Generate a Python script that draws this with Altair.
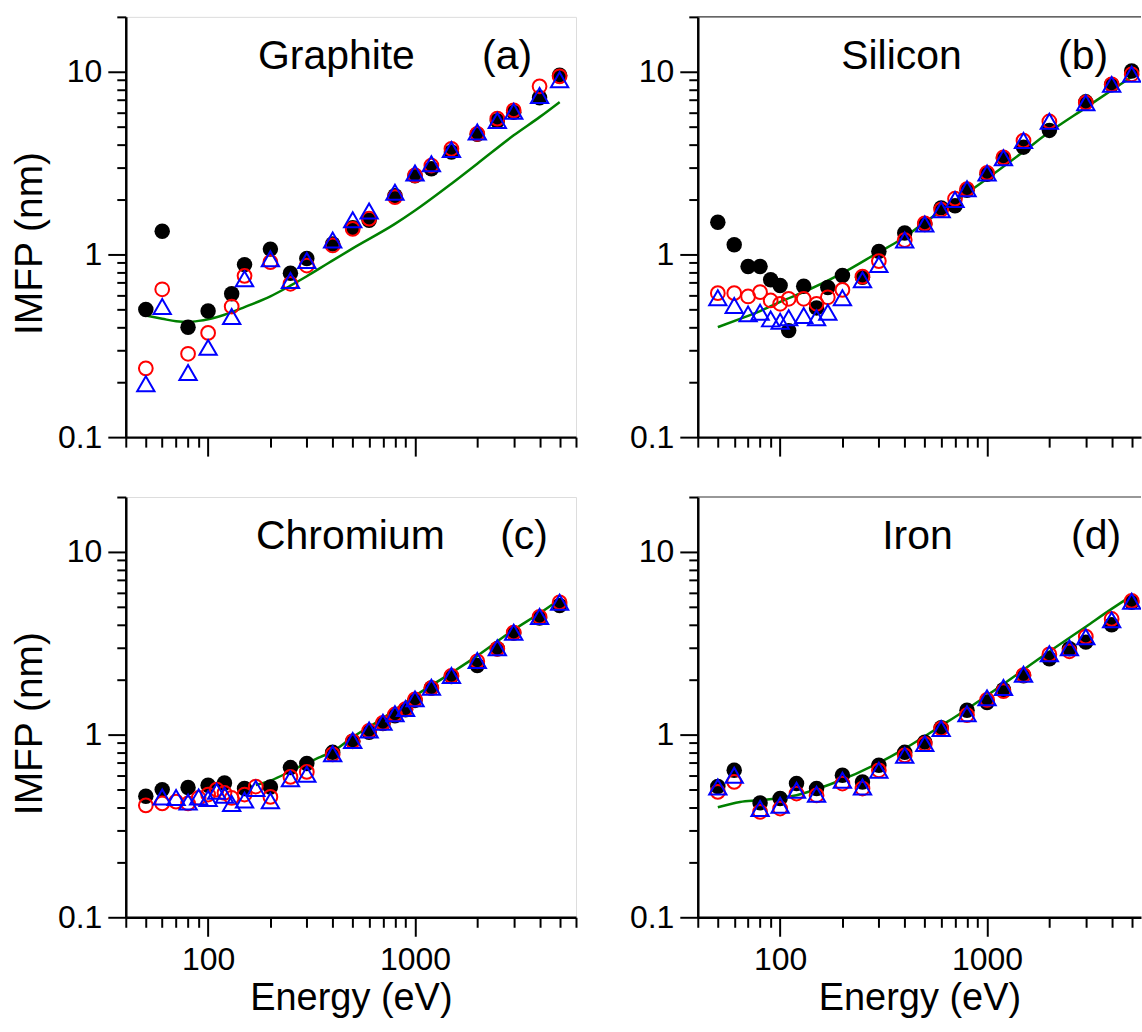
import altair as alt
import pandas as pd

FONT = "Liberation Sans"

# ---------------- Graphite (a) ----------------
E_gr = [50, 60, 80, 100, 130, 150, 200, 250, 300, 400, 500, 600, 800, 1000,
        1200, 1500, 2000, 2500, 3000, 4000, 5000]
gr_black = [0.50, 1.34, 0.40, 0.49, 0.61, 0.88, 1.07, 0.79, 0.95, 1.14, 1.40, 1.54,
            2.10, 2.70, 2.95, 3.64, 4.55, 5.40, 6.00, 7.22, 9.57]
gr_red = [0.238, 0.645, 0.286, 0.372, 0.519, 0.764, 0.908, 0.691, 0.870, 1.12, 1.38,
          1.57, 2.06, 2.71, 3.07, 3.79, 4.58, 5.54, 6.15, 8.33, 9.45]
gr_blue = [0.196, 0.519, 0.226, 0.310, 0.457, 0.736, 0.947, 0.721, 0.927, 1.20, 1.55,
           1.73, 2.19, 2.79, 3.14, 3.76, 4.68, 5.42, 6.08, 7.43, 9.06]
gr_line_E = [50, 60, 70, 80, 90, 100, 120, 150, 200, 250, 300, 380, 500, 800,
             1000, 1500, 2000, 3000, 4000, 5000]
gr_line = [0.463, 0.445, 0.431, 0.428, 0.433, 0.442, 0.468, 0.515, 0.59, 0.675,
           0.76, 0.895, 1.08, 1.47, 1.74, 2.44, 3.14, 4.49, 5.65, 6.83]

# ---------------- Silicon (b) ----------------
E_si = [50, 60, 70, 80, 90, 100, 110, 130, 150, 170, 200, 250, 300, 400, 500, 600,
        700, 800, 1000, 1200, 1500, 2000, 3000, 4000, 5000]
si_black = [1.50, 1.13, 0.86, 0.86, 0.727, 0.676, 0.383, 0.67, 0.51, 0.66, 0.767, 0.75,
            1.04, 1.31, 1.46, 1.80, 1.85, 2.25, 2.75, 3.35, 3.87, 4.78, 6.85, 8.50, 10.1]
si_red = [0.614, 0.614, 0.589, 0.622, 0.56, 0.537, 0.572, 0.572, 0.537, 0.583, 0.64,
          0.757, 0.92, 1.20, 1.48, 1.76, 2.02, 2.28, 2.80, 3.40, 4.20, 5.35, 6.78, 8.55, 9.70]
si_blue = [0.579, 0.526, 0.473, 0.483, 0.444, 0.431, 0.45, 0.463, 0.45, 0.483, 0.579,
           0.727, 0.882, 1.20, 1.47, 1.76, 2.00, 2.29, 2.79, 3.39, 4.21, 5.37, 6.78, 8.54, 9.69]
si_line_E = [50, 64, 80, 100, 135, 200, 300, 380, 500, 700, 925, 1500, 2000, 3000, 4000, 5000]
si_line = [0.40, 0.444, 0.49, 0.55, 0.635, 0.79, 1.03, 1.20, 1.50, 1.95, 2.44, 3.66,
           4.68, 6.37, 7.93, 9.39]

# ---------------- Chromium (c) ----------------
cr_black_E = [50, 60, 80, 100, 120, 150, 200, 250, 300, 400, 500, 600, 700, 800, 900,
              1000, 1200, 1500, 2000, 2500, 3000, 4000, 5000]
cr_black = [0.46, 0.50, 0.513, 0.528, 0.544, 0.507, 0.517, 0.66, 0.695, 0.80, 0.92, 1.03,
            1.15, 1.27, 1.37, 1.54, 1.80, 2.08, 2.39, 2.95, 3.60, 4.35, 5.09]
cr_red_E = [50, 60, 70, 80, 90, 100, 110, 120, 130, 150, 170, 200, 250, 300, 400, 500,
            600, 700, 800, 900, 1000, 1200, 1500, 2000, 2500, 3000, 4000, 5000]
cr_red = [0.41, 0.42, 0.43, 0.42, 0.45, 0.47, 0.50, 0.48, 0.45, 0.47, 0.52, 0.456, 0.587,
          0.625, 0.78, 0.92, 1.05, 1.16, 1.29, 1.38, 1.56, 1.80, 2.10, 2.52, 2.95, 3.62,
          4.42, 5.30]
cr_blue_E = [60, 70, 80, 90, 100, 110, 120, 130, 150, 170, 200, 250, 300, 400, 500, 600,
             700, 800, 900, 1000, 1200, 1500, 2000, 2500, 3000, 4000, 5000]
cr_blue = [0.456, 0.453, 0.428, 0.456, 0.447, 0.49, 0.466, 0.42, 0.438, 0.507, 0.434,
           0.574, 0.607, 0.787, 0.93, 1.06, 1.17, 1.30, 1.39, 1.57, 1.82, 2.11, 2.55,
           2.99, 3.64, 4.43, 5.31]
cr_line_E = [170, 200, 250, 300, 350, 400, 500, 700, 1000, 1500, 2000, 3000, 4000, 5000]
cr_line = [0.53, 0.56, 0.63, 0.70, 0.755, 0.81, 0.97, 1.23, 1.63, 2.18, 2.70, 3.75,
           4.62, 5.50]

# ---------------- Iron (d) ----------------
E_fe = [50, 60, 80, 100, 120, 150, 200, 250, 300, 400, 500, 600, 800, 1000, 1200,
        1500, 2000, 2500, 3000, 4000, 5000]
fe_black = [0.52, 0.638, 0.423, 0.447, 0.54, 0.507, 0.60, 0.551, 0.68, 0.80, 0.91, 1.09,
            1.36, 1.50, 1.76, 2.10, 2.60, 2.95, 3.21, 4.00, 5.30]
fe_red = [0.486, 0.551, 0.378, 0.394, 0.476, 0.465, 0.54, 0.507, 0.638, 0.77, 0.89, 1.08,
          1.28, 1.55, 1.73, 2.12, 2.75, 2.86, 3.44, 4.30, 5.40]
fe_blue = [0.517, 0.60, 0.394, 0.411, 0.496, 0.472, 0.563, 0.517, 0.638, 0.77, 0.893,
           1.08, 1.30, 1.59, 1.81, 2.14, 2.77, 2.99, 3.44, 4.25, 5.37]
fe_line_E = [50, 64, 80, 120, 175, 300, 400, 500, 600, 700, 1000, 2000, 3000, 4000, 5000]
fe_line = [0.40, 0.428, 0.438, 0.466, 0.535, 0.70, 0.838, 0.98, 1.12, 1.25, 1.64, 2.85,
           3.90, 4.88, 5.77]

# axis ticks (log decades with minor ticks)
X_TICKS = [40, 50, 60, 70, 80, 90, 100, 200, 300, 400, 500, 600, 700, 800, 900, 1000,
           2000, 3000, 4000, 5000, 6000]
Y_TICKS = [0.1, 0.2, 0.3, 0.4, 0.5, 0.6, 0.7, 0.8, 0.9, 1, 2, 3, 4, 5, 6, 7, 8, 9, 10, 20]

# full panels span 40-6000 eV; the right column runs off the page edge,
# so it is drawn narrower with the same px-per-decade and a shorter range
PANEL_W = 451
PANEL_H = 421
X_MIN = 40
X_MAX_FULL = 6000
PX_PER_DECADE = 207.3
RIGHT_W = 444
X_MAX_RIGHT = X_MIN * 10 ** (RIGHT_W / PX_PER_DECADE)


def frame(e, v):
    return pd.DataFrame({"E": e, "IMFP": v})


def panel(name, tag, name_x, tag_x, black, red, blue, line, x_labels, y_title,
          width, x_max, open_right):
    x_axis = alt.Axis(
        values=[t for t in X_TICKS if t <= x_max],
        labels=x_labels,
        labelExpr="datum.value == 100 ? '100' : datum.value == 1000 ? '1000' : ''",
        tickSize={"condition": {"test": "datum.value == 100 || datum.value == 1000",
                                "value": 19}, "value": 10},
        tickWidth=2, tickColor="black", domainColor="black", domainWidth=2.5,
        grid=False, labelFont=FONT, labelFontSize=32, labelColor="black",
        labelPadding=8,
        title="Energy (eV)" if x_labels else None,
        titleFont=FONT, titleFontSize=38, titleFontWeight="normal", titleColor="black",
        titlePadding=4,
    )
    y_axis = alt.Axis(
        values=Y_TICKS,
        labelExpr="datum.value == 10 ? '10' : datum.value == 1 ? '1' : datum.value == 0.1 ? '0.1' : ''",
        tickSize={"condition": {"test": "datum.value == 0.1 || datum.value == 1 || datum.value == 10",
                                "value": 18}, "value": 9},
        tickWidth=2, tickColor="black", domainColor="black", domainWidth=2.5,
        grid=False, labelFont=FONT, labelFontSize=32, labelColor="black",
        labelPadding=6,
        title="IMFP (nm)" if y_title else None,
        titleFont=FONT, titleFontSize=39, titleFontWeight="normal", titleColor="black",
        titlePadding=8, titleY=PANEL_H / 2 + 16,
    )
    x_enc = alt.X("E:Q", scale=alt.Scale(type="log", domain=[X_MIN, x_max], nice=False),
                  axis=x_axis)
    y_enc = alt.Y("IMFP:Q", scale=alt.Scale(type="log", domain=[0.1, 20], nice=False),
                  axis=y_axis)

    fit = alt.Chart(frame(*line)).mark_line(
        color="#008000", strokeWidth=2.5, interpolate="monotone", clip=open_right
    ).encode(x=x_enc, y=y_enc)
    dots = alt.Chart(frame(*black)).mark_point(
        shape="circle", filled=True, color="black", size=240, opacity=1, clip=open_right
    ).encode(x=x_enc, y=y_enc)
    rings = alt.Chart(frame(*red)).mark_point(
        shape="circle", filled=False, color="red", strokeWidth=2, size=190, opacity=1,
        clip=open_right
    ).encode(x=x_enc, y=y_enc)
    tris = alt.Chart(frame(*blue)).mark_point(
        shape="triangle-up", filled=False, color="blue", strokeWidth=2, size=300,
        opacity=1, clip=open_right
    ).encode(x=x_enc, y=y_enc)

    labels = pd.DataFrame({"t": [name, tag], "px": [name_x, tag_x]})
    names = alt.Chart(labels).mark_text(
        font=FONT, fontSize=41, color="black", baseline="alphabetic", align="center"
    ).encode(text="t:N", x=alt.X("px:Q", scale=None), y=alt.value(52))

    layers = [fit, dots, rings, tris, names]
    if open_right:
        # only the top edge of the frame is visible on the cut-off panels
        top_edge = alt.Chart(labels.head(1)).mark_rule(
            color="#333333", strokeWidth=1.2
        ).encode(x=alt.value(0), x2=alt.value(width), y=alt.value(0))
        layers.insert(0, top_edge)
        return alt.layer(*layers).properties(
            width=width, height=PANEL_H,
            view=alt.ViewBackground(strokeOpacity=0),
        )
    return alt.layer(*layers).properties(width=width, height=PANEL_H)


pa = panel("Graphite", "(a)", 211, 382, (E_gr, gr_black), (E_gr, gr_red),
           (E_gr, gr_blue), (gr_line_E, gr_line), False, True,
           PANEL_W, X_MAX_FULL, False)
pb = panel("Silicon", "(b)", 204, 386, (E_si, si_black), (E_si, si_red),
           (E_si, si_blue), (si_line_E, si_line), False, False,
           RIGHT_W, X_MAX_RIGHT, True)
pc = panel("Chromium", "(c)", 225, 399, (cr_black_E, cr_black), (cr_red_E, cr_red),
           (cr_blue_E, cr_blue), (cr_line_E, cr_line), True, True,
           PANEL_W, X_MAX_FULL, False)
pd_ = panel("Iron", "(d)", 220, 399, (E_fe, fe_black), (E_fe, fe_red),
            (E_fe, fe_blue), (fe_line_E, fe_line), True, False,
            RIGHT_W, X_MAX_RIGHT, True)

top = alt.hconcat(pa, pb, spacing=51)
bottom = alt.hconcat(pc, pd_, spacing=51)

chart = alt.vconcat(top, bottom, spacing=37).properties(
    padding={"left": 10, "top": 14, "right": 0, "bottom": 0}
).configure_view(
    stroke="#333333", strokeWidth=1.2
).configure(background="white")

chart.save("out.html", embed_options={"renderer": "svg", "actions": False})
